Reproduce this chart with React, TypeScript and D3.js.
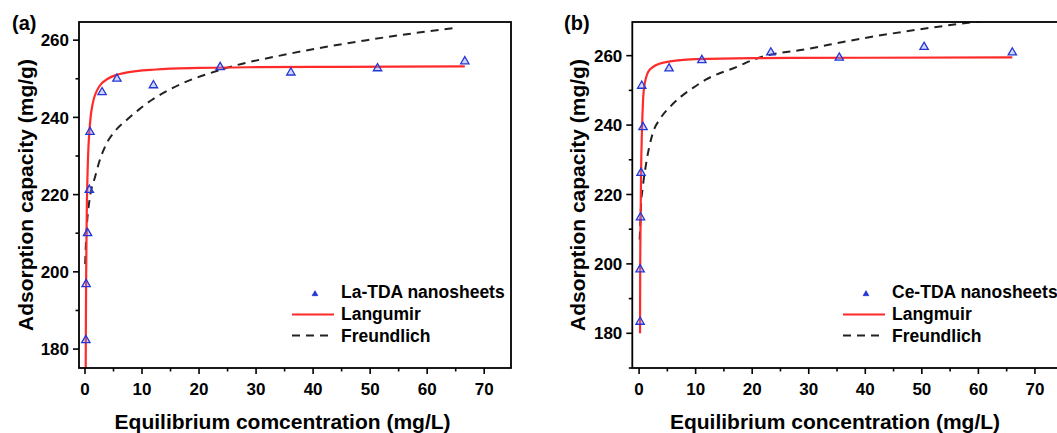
import * as d3 from 'd3';

// (a) La-TDA nanosheets
const laC = [0.15, 0.2, 0.45, 0.76, 0.88, 3.0, 5.6, 12.0, 23.7, 36.1, 51.3, 66.6];
const laQ = [182.3, 196.8, 210, 221.2, 236.2, 246.5, 250, 248.3, 253, 251.6, 252.7, 254.5];
const laLangC = [0.12, 0.16, 0.2, 0.3, 0.47, 0.88, 1.35, 2.5, 4, 7.2, 12.4, 20, 30, 45, 66.6];
const laLangQ = [173, 188, 198, 214, 226.5, 238.4, 243.5, 248, 250, 251.6, 252.4, 252.8, 253, 253.1, 253.2];
const laFrC = [0.03, 0.18, 0.35, 0.65, 1.0, 1.75, 2.5, 3.7, 5.3, 7.3, 9.6, 11.7, 15.5, 23.7, 35.9, 49.4, 64.9];
const laFrQ = [202, 208, 212.5, 217, 220.5, 224.5, 228.5, 233, 236.5, 239.3, 242.2, 244.5, 247.7, 252.3, 256.5, 260, 263.2];

// (b) Ce-TDA nanosheets
const ceC = [0.18, 0.18, 0.25, 0.35, 0.7, 0.47, 5.3, 11.1, 23.3, 35.4, 50.4, 66.0];
const ceQ = [183.3, 198.4, 213.4, 226.2, 239.4, 251.3, 256.3, 258.7, 260.9, 259.4, 262.5, 260.9];
const ceLangC = [0.17, 0.2, 0.28, 0.35, 0.5, 0.7, 1.0, 1.9, 4.3, 10, 20, 40, 66];
const ceLangQ = [180, 200, 215, 226, 238, 247, 252, 256, 258, 259, 259.3, 259.4, 259.5];
const ceFrC = [0.1, 0.18, 0.35, 0.65, 1.36, 2.35, 3.8, 5.5, 7.4, 9.6, 11.7, 17.3, 20.8, 30, 39.6, 51.4, 66];
const ceFrQ = [207, 210, 217, 222, 230, 237.3, 242, 245.3, 248.2, 250.8, 253, 256.8, 259.2, 262, 265, 268, 271];

const font = "Arial, 'Liberation Sans', sans-serif";
const red = '#ff2a2a';

type PanelProps = {
  id: string;
  letter: string;
  left: number;
  right: number;
  xDomain: [number, number];
  yDomain: [number, number];
  c: number[];
  q: number[];
  langC: number[];
  langQ: number[];
  frC: number[];
  frQ: number[];
  series: string;
  langName: string;
  xTitle: string;
  letterX: number;
  yTitleX: number;
  legendX: number;
};

function Panel(p: PanelProps) {
  const top = 22;
  const bottom = 368;
  const x = d3.scaleLinear().domain(p.xDomain).range([p.left, p.right]);
  const y = d3.scaleLinear().domain(p.yDomain).range([bottom, top]);
  const line = d3
    .line<[number, number]>()
    .x((d) => x(d[0]))
    .y((d) => y(d[1]))
    .curve(d3.curveMonotoneX);
  const lang = line(p.langC.map((v, i) => [v, p.langQ[i]]) as [number, number][]);
  const fre = line(p.frC.map((v, i) => [v, p.frQ[i]]) as [number, number][]);
  const tri = d3.symbol(d3.symbolTriangle, 30)();
  const triSmall = d3.symbol(d3.symbolTriangle, 14)();
  const xt = x.ticks(15).filter((t) => t >= p.xDomain[0] && t <= p.xDomain[1]);
  const yt = y.ticks(10);
  const lx = p.legendX;

  return (
    <g>
      <defs>
        <clipPath id={`clip-${p.id}`}>
          <rect x={p.left} y={top} width={p.right - p.left} height={bottom - top} />
        </clipPath>
      </defs>
      <g clipPath={`url(#clip-${p.id})`}>
        <path d={fre ?? ''} fill="none" stroke="#222" strokeWidth={2} strokeDasharray="8,6" />
        <path d={lang ?? ''} fill="none" stroke={red} strokeWidth={2.2} />
        {p.c.map((v, i) => (
          <path
            key={i}
            d={tri ?? ''}
            transform={`translate(${x(v)},${y(p.q[i])})`}
            fill="rgba(120,140,245,0.35)"
            stroke="#2436d4"
            strokeWidth={1.3}
          />
        ))}
      </g>
      <rect
        x={p.left}
        y={top}
        width={p.right - p.left}
        height={bottom - top}
        fill="none"
        stroke="#000"
        strokeWidth={1.8}
      />
      {xt.map((t) => (
        <g key={`x${t}`}>
          <line x1={x(t)} x2={x(t)} y1={bottom} y2={bottom + (t % 10 === 0 ? 6 : 3.5)} stroke="#000" strokeWidth={1.6} />
          {t % 10 === 0 && (
            <text x={x(t)} y={395} textAnchor="middle" fontFamily={font} fontWeight="bold" fontSize={17}>
              {t}
            </text>
          )}
        </g>
      ))}
      {yt.map((t) => (
        <g key={`y${t}`}>
          <line x1={p.left} x2={p.left - (t % 20 === 0 ? 6 : 3.5)} y1={y(t)} y2={y(t)} stroke="#000" strokeWidth={1.6} />
          {t % 20 === 0 && (
            <text
              x={p.left - 10}
              y={y(t)}
              dy="0.36em"
              textAnchor="end"
              fontFamily={font}
              fontWeight="bold"
              fontSize={17}
            >
              {t}
            </text>
          )}
        </g>
      ))}
      <text x={p.letterX} y={30} fontFamily={font} fontWeight="bold" fontSize={20}>
        {p.letter}
      </text>
      <text
        transform={`translate(${p.yTitleX},195) rotate(-90)`}
        textAnchor="middle"
        fontFamily={font}
        fontWeight="bold"
        fontSize={21}
      >
        Adsorption capacity (mg/g)
      </text>
      <text
        x={(x(0) + x(70)) / 2 - 2}
        y={429}
        textAnchor="middle"
        fontFamily={font}
        fontWeight="bold"
        fontSize={21}
      >
        {p.xTitle}
      </text>
      {/* legend */}
      <path d={triSmall ?? ''} transform={`translate(${lx + 23},294)`} fill="#2436d4" stroke="#2436d4" strokeWidth={0.8} />
      <text x={lx + 49} y={298} fontFamily={font} fontWeight="bold" fontSize={17.5}>
        {p.series}
      </text>
      <line x1={lx} x2={lx + 42} y1={314.5} y2={314.5} stroke={red} strokeWidth={2.2} />
      <text x={lx + 49} y={320} fontFamily={font} fontWeight="bold" fontSize={17.5}>
        {p.langName}
      </text>
      <line x1={lx} x2={lx + 42} y1={335.5} y2={335.5} stroke="#222" strokeWidth={2} strokeDasharray="8,6" />
      <text x={lx + 49} y={342} fontFamily={font} fontWeight="bold" fontSize={17.5}>
        Freundlich
      </text>
    </g>
  );
}

export default function App() {
  return (
    <svg
      width={1057}
      height={433}
      style={{ position: 'absolute', left: 0, top: 0, background: '#fff' }}
    >
      <Panel
        id="a"
        letter="(a)"
        left={79}
        right={511}
        xDomain={[-1.05, 74.7]}
        yDomain={[175.1, 264.7]}
        c={laC}
        q={laQ}
        langC={laLangC}
        langQ={laLangQ}
        frC={laFrC}
        frQ={laFrQ}
        series="La-TDA nanosheets"
        langName="Langumir"
        xTitle="Equilibrium comcentration (mg/L)"
        letterX={12}
        yTitleX={33}
        legendX={292}
      />
      <Panel
        id="b"
        letter="(b)"
        left={632.3}
        right={1070}
        xDomain={[-1.2, 76.2]}
        yDomain={[170, 269.7]}
        c={ceC}
        q={ceQ}
        langC={ceLangC}
        langQ={ceLangQ}
        frC={ceFrC}
        frQ={ceFrQ}
        series="Ce-TDA nanosheets"
        langName="Langmuir"
        xTitle="Equilibrium concentration (mg/L)"
        letterX={564}
        yTitleX={585}
        legendX={843}
      />
    </svg>
  );
}
